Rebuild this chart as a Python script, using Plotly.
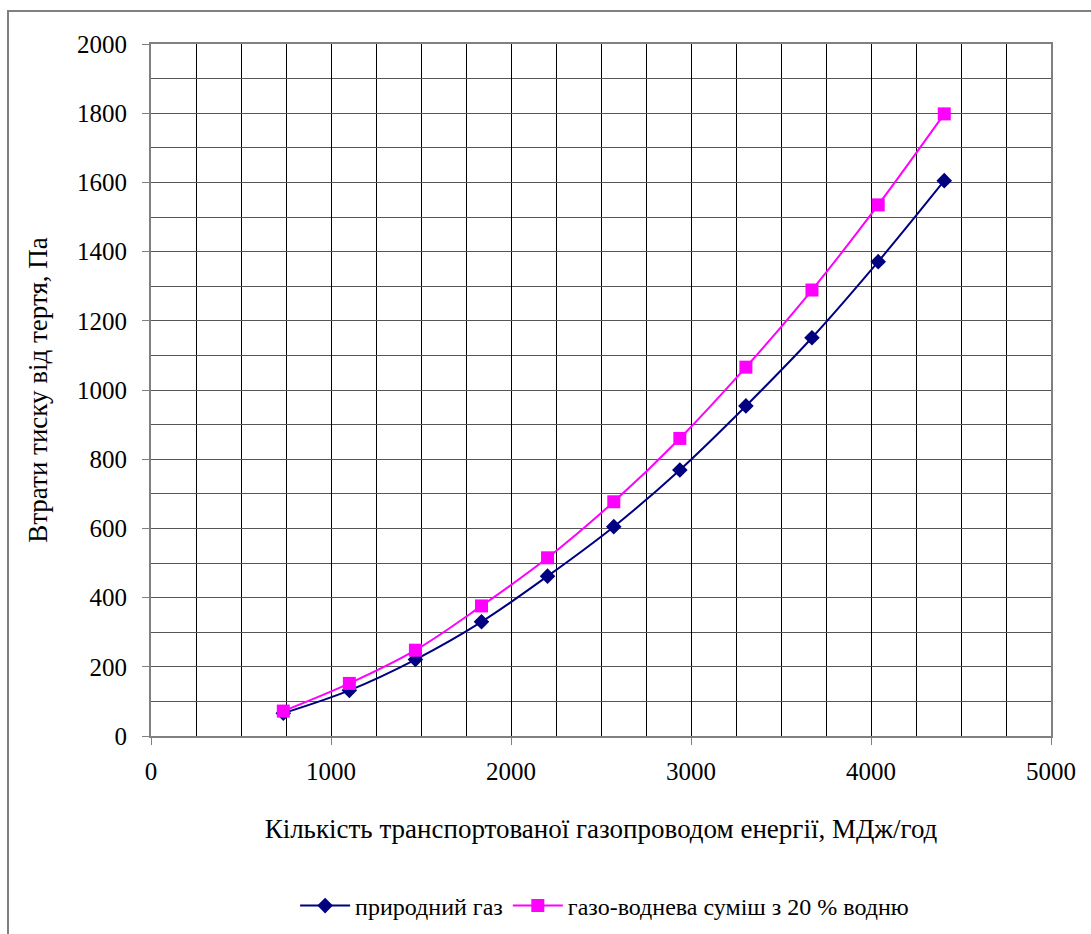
import plotly.graph_objects as go

energy = [735, 1102, 1469, 1836, 2203, 2571, 2938, 3305, 3672, 4040, 4407]
natural_gas = [66, 132, 221, 330, 462, 605, 769, 954, 1151, 1371, 1605]
h2_mix = [72, 152, 248, 376, 515, 677, 860, 1066, 1289, 1535, 1798]

name_ng = "природний газ"
name_mix = "газо-воднева суміш з 20 % водню"
x_title = "Кількість транспортованої газопроводом енергії, МДж/год"
y_title = "Втрати тиску від тертя, Па"

FONT = "Liberation Serif"
tf = dict(family=FONT, size=25, color="black")
ttf = dict(family=FONT, size=27, color="black")

fig = go.Figure()
fig.add_trace(go.Scatter(
    x=energy, y=natural_gas, name=name_ng, mode="lines+markers",
    line=dict(color="#000080", width=2, shape="spline"),
    marker=dict(symbol="diamond", size=12, color="#000080"),
))
fig.add_trace(go.Scatter(
    x=energy, y=h2_mix, name=name_mix, mode="lines+markers",
    line=dict(color="#FF00FF", width=2, shape="spline"),
    marker=dict(symbol="square", size=13, color="#FF00FF"),
))

L, R, T, B = 151, 40, 44, 198
W, H = 1091, 934
pw = W - L - R
ph = H - T - B

fig.update_layout(
    width=W, height=H,
    margin=dict(l=L, r=R, t=T, b=B, autoexpand=False),
    paper_bgcolor="white", plot_bgcolor="white",
    font=tf,
    showlegend=True,
    legend=dict(orientation="h", x=0.504, xanchor="center", y=-0.2457, yanchor="middle",
                font=dict(family=FONT, size=24, color="black"), traceorder="normal",
                itemwidth=50),
    xaxis=dict(
        range=[0, 5000], dtick=1000, tick0=0,
        tickfont=tf, automargin=False,
        showgrid=True, gridcolor="black", gridwidth=1,
        minor=dict(dtick=250, showgrid=True, gridcolor="black", gridwidth=1),
        ticks="outside", ticklen=7, tickcolor="#808080", tickwidth=1,
        ticklabelstandoff=5,
        showline=True, linecolor="#808080", linewidth=2, mirror=True,
        zeroline=False,
        title=dict(text=x_title, font=ttf, standoff=35),
    ),
    yaxis=dict(
        range=[0, 2000], dtick=200, tick0=0,
        tickfont=tf, automargin=False,
        showgrid=True, gridcolor="#555555", gridwidth=1,
        minor=dict(dtick=100, showgrid=True, gridcolor="#555555", gridwidth=1),
        ticks="outside", ticklen=7, tickcolor="#808080", tickwidth=1,
        ticklabelstandoff=10,
        showline=True, linecolor="#808080", linewidth=2, mirror=True,
        zeroline=False,
        title=dict(text=y_title, font=ttf, standoff=22),
    ),
    shapes=[dict(
        type="rect", xref="paper", yref="paper",
        x0=(8 - L) / pw, x1=(1100 - L) / pw,
        y0=(T + ph - 950) / ph, y1=1 + (T - 11) / ph,
        line=dict(color="#808080", width=2), layer="below",
    )],
)

fig.write_html("out.html", config={"displayModeBar": False},
               post_script="document.body.style.margin='0';document.body.style.padding='0';")
